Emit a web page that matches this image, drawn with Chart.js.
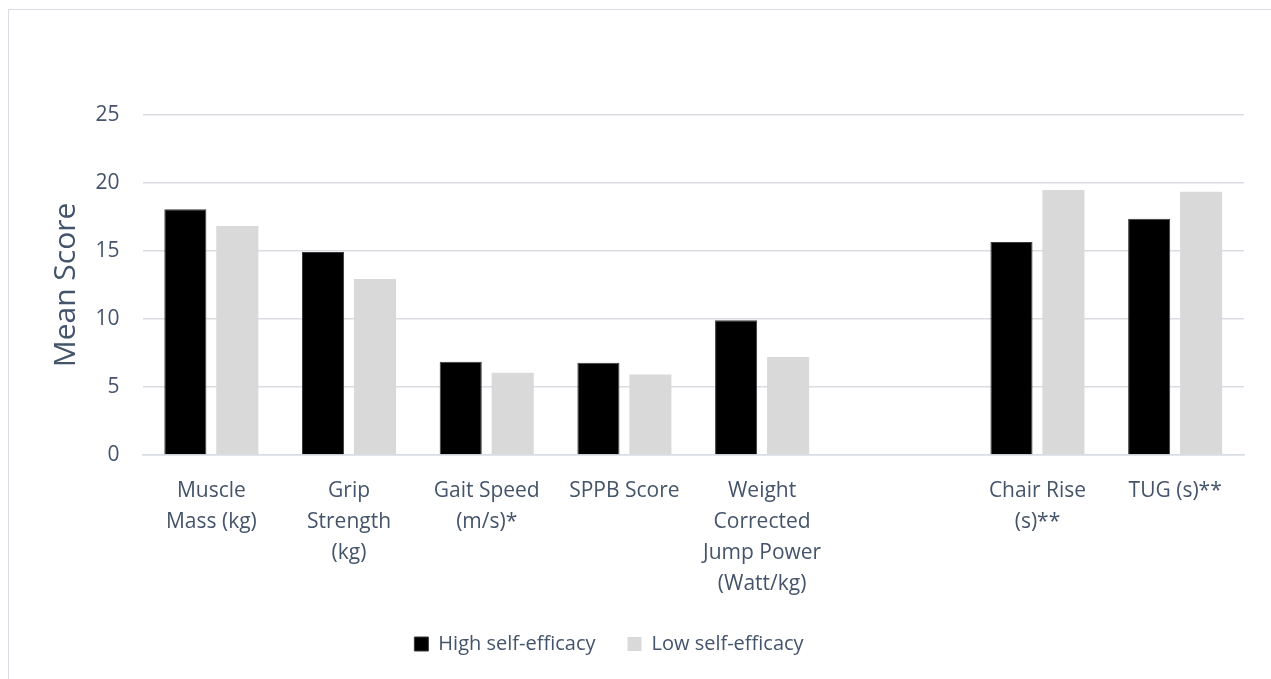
<!DOCTYPE html>
<html>
<head>
<meta charset="utf-8">
<script src="https://cdn.jsdelivr.net/npm/chart.js@4.4.1/dist/chart.umd.min.js"></script>
<style>
  html, body { margin: 0; padding: 0; background: #fff; }
  #wrap { position: relative; width: 1271px; height: 679px; overflow: hidden; }
  #frame { position: absolute; left: 8px; top: 9px; width: 1400px; height: 800px; border: 1.5px solid #D9DDE3; box-sizing: border-box; pointer-events: none; }
  canvas { position: absolute; left: 0; top: 0; }
</style>
</head>
<body>
<div id="wrap">
  <canvas id="chart" width="1271" height="679"></canvas>
  <div id="frame"></div>
</div>
<script>
const categories = [
    ['Muscle', 'Mass (kg)'],
    ['Grip', 'Strength', '(kg)'],
    ['Gait Speed', '(m/s)*'],
    ['SPPB Score'],
    ['Weight', 'Corrected', 'Jump Power', '(Watt/kg)'],
    '',
    ['Chair Rise', '(s)**'],
    ['TUG (s)**']
];
const highSelfEfficacy = [18.07, 14.93, 6.86, 6.79, 9.90, null, 15.66, 17.38];
const lowSelfEfficacy = [16.84, 12.94, 6.05, 5.91, 7.20, null, 19.49, 19.36];
const yTicks = [0, 5, 10, 15, 20, 25];

const textColor = '#44546A';
const gridColor = '#D9DDE3';
const fontFamily = "'Open Sans', 'Noto Sans', sans-serif";

// move the legend to where the original sits
const legendShift = {
    id: 'legendShift',
    afterLayout(chart) {
        const lg = chart.legend;
        if (!lg) return;
        lg.left -= 33; lg.right -= 33;
        lg.top -= 15; lg.bottom -= 15;
    }
};

new Chart(document.getElementById('chart').getContext('2d'), {
    type: 'bar',
    data: {
        labels: categories,
        datasets: [
            {
                label: 'High self-efficacy',
                data: highSelfEfficacy,
                backgroundColor: '#000000',
                borderColor: '#3a3a3a',
                borderWidth: 1,
                categoryPercentage: 0.755,
                barPercentage: 0.81
            },
            {
                label: 'Low self-efficacy',
                data: lowSelfEfficacy,
                backgroundColor: '#D9D9D9',
                borderWidth: 0,
                categoryPercentage: 0.755,
                barPercentage: 0.81
            }
        ]
    },
    options: {
        responsive: false,
        animation: false,
        layout: { padding: { left: 40, right: 27, top: 115, bottom: 0 } },
        plugins: {
            tooltip: { enabled: false },
            legend: {
                position: 'bottom',
                labels: {
                    color: textColor,
                    font: { family: fontFamily, size: 20 },
                    boxWidth: 14,
                    boxHeight: 14,
                    padding: 32
                }
            }
        },
        scales: {
            x: {
                grid: { display: false, drawTicks: false },
                border: { display: true, color: gridColor, width: 1.5 },
                ticks: {
                    color: textColor,
                    font: { family: fontFamily, size: 21, lineHeight: 1.48 },
                    padding: 20,
                    autoSkip: false,
                    maxRotation: 0,
                    minRotation: 0
                },
                afterFit(scale) { scale.height = 162; }
            },
            y: {
                min: 0,
                max: 25,
                afterBuildTicks(scale) { scale.ticks = yTicks.map(v => ({ value: v })); },
                grid: { color: gridColor, lineWidth: 1.5, drawTicks: false },
                border: { display: false },
                ticks: {
                    color: textColor,
                    font: { family: fontFamily, size: 21 },
                    padding: 23
                },
                title: {
                    display: true,
                    text: 'Mean Score',
                    color: textColor,
                    font: { family: fontFamily, size: 30, lineHeight: 1.2 },
                    padding: { top: 8, bottom: 0 }
                },
                afterFit(scale) { scale.width = 102.5; }
            }
        }
    },
    plugins: [legendShift]
});
</script>
</body>
</html>
